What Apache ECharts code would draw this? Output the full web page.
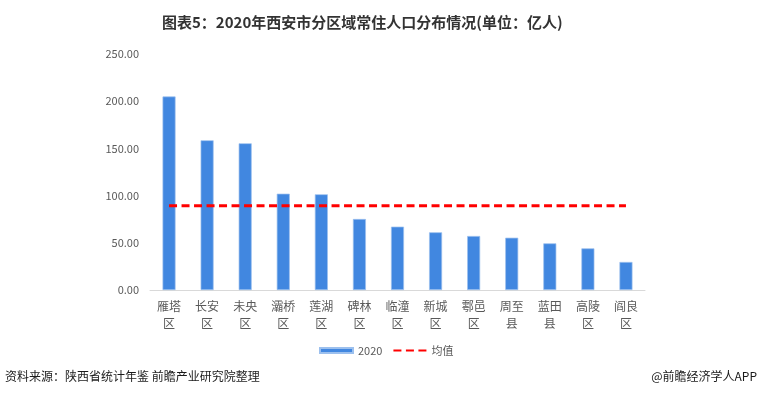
<!DOCTYPE html>
<html>
<head>
<meta charset="utf-8">
<script src="https://cdn.jsdelivr.net/npm/echarts@6/dist/echarts.min.js"></script>
<style>
html,body{margin:0;padding:0;background:#fff;}
#c{width:760px;height:398px;}
</style>
</head>
<body>
<div id="c"></div>
<script>
const categories = ['雁塔\n区','长安\n区','未央\n区','灞桥\n区','莲湖\n区','碑林\n区','临潼\n区','新城\n区','鄠邑\n区','周至\n县','蓝田\n县','高陵\n区','阎良\n区'];
const values2020 = [205.0, 158.6, 155.4, 102.0, 101.4, 75.2, 67.1, 61.1, 57.2, 55.4, 49.4, 44.1, 29.7];
const meanValues = [89.3, 89.3, 89.3, 89.3, 89.3, 89.3, 89.3, 89.3, 89.3, 89.3, 89.3, 89.3, 89.3];
const yTicks = [0, 50, 100, 150, 200, 250];

const chart = echarts.init(document.getElementById('c'), null, {renderer: 'canvas'});
const font = '"Noto Sans CJK SC", "Noto Sans", sans-serif';
chart.setOption({
  backgroundColor: '#fff',
  animation: false,
  textStyle: {fontFamily: font},
  title: [{
    text: '图表5：2020年西安市分区域常住人口分布情况(单位：亿人)',
    left: 157, top: 10,
    textStyle: {fontSize: 15, fontWeight: 'bold', color: '#333', fontFamily: font}
  }],
  graphic: [
    {type: 'text', left: 5, top: 370, style: {text: '资料来源：陕西省统计年鉴 前瞻产业研究院整理', fontSize: 12, fill: '#1a1a1a', fontFamily: font}},
    {type: 'text', right: 3, top: 370, style: {text: '@前瞻经济学人APP', fontSize: 12, fill: '#1a1a1a', fontFamily: font}}
  ],
  legend: {
    top: 340, left: 314,
    itemGap: 10,
    itemWidth: 33, itemHeight: 5,
    textStyle: {fontSize: 11, color: '#595959', fontFamily: font},
    data: [{name: '2020', icon: 'rect'}, {name: '均值', itemStyle: {opacity: 0}}]
  },
  grid: {left: 150, right: 115, top: 54, bottom: 108, containLabel: false},
  xAxis: {
    type: 'category',
    data: categories,
    axisLine: {show: true, lineStyle: {color: '#d9d9d9', width: 1}},
    axisTick: {show: false},
    axisLabel: {fontSize: 12, color: '#595959', lineHeight: 17, margin: 8, interval: 0, fontFamily: font}
  },
  yAxis: {
    type: 'value',
    min: yTicks[0], max: yTicks[yTicks.length - 1], interval: 50,
    splitLine: {show: false},
    axisLine: {show: false},
    axisTick: {show: false},
    axisLabel: {fontSize: 11, color: '#595959', margin: 11, formatter: v => v.toFixed(2), fontFamily: font}
  },
  series: [
    {
      name: '2020', type: 'bar', data: values2020, barWidth: 13,
      itemStyle: {color: '#4187e0', borderColor: '#9cc0ee', borderWidth: 0.7}
    },
    {
      name: '均值', type: 'line', data: meanValues, symbol: 'none',
      lineStyle: {color: '#ff0000', width: 3, type: [8, 4.5]},
      itemStyle: {color: '#ff0000'}
    }
  ]
});
</script>
</body>
</html>
